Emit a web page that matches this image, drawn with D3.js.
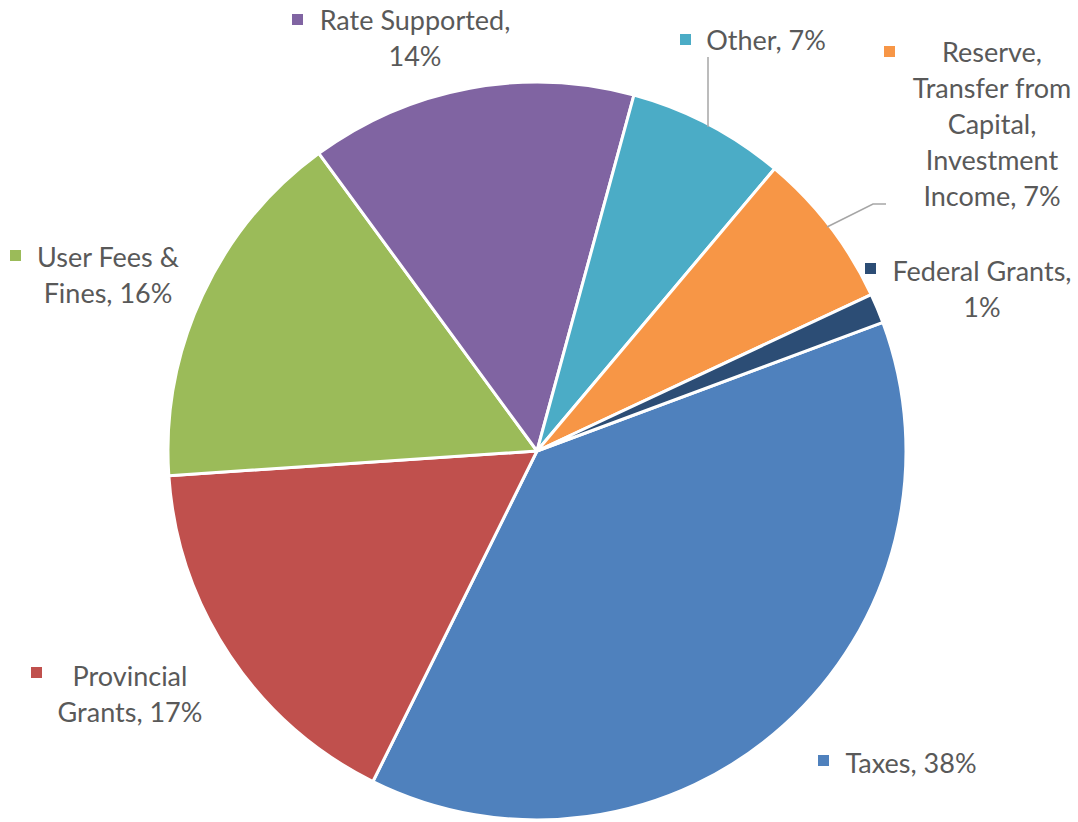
<!DOCTYPE html>
<html>
<head>
<meta charset="utf-8">
<script src="https://cdn.jsdelivr.net/npm/d3@7"></script>
<style>
  body { margin: 0; background: #fff; }
  svg text { font-family: "Lato", "Open Sans", sans-serif; fill: #595959; }
</style>
</head>
<body>
<svg id="chart" width="1078" height="822"></svg>
<script>
// data, in drawing order (clockwise)
var categories = ["Taxes", "Provincial Grants", "User Fees & Fines", "Rate Supported",
                  "Other", "Reserve, Transfer from Capital, Investment Income", "Federal Grants"];
var shares = [38.0, 16.6, 16.0, 14.3, 6.9, 6.9, 1.3];
var colors = ["#4F81BD", "#C0504D", "#9BBB59", "#8064A2", "#4BACC6", "#F79646", "#2C4D75"];

// label text lines (last line gets the percent appended)
var labelLines = [
  ["Taxes,"],
  ["Provincial", "Grants,"],
  ["User Fees &", "Fines,"],
  ["Rate Supported,", ""],
  ["Other,"],
  ["Reserve,", "Transfer from", "Capital,", "Investment", "Income,"],
  ["Federal Grants,", ""]
];

// where Excel put each label: text centre x, first baseline y, key square x
var labelPos = [
  {cx: 911, y: 773, kx: 818, ky: 755},
  {cx: 130, y: 686, kx: 31,  ky: 667},
  {cx: 108, y: 267, kx: 10,  ky: 250},
  {cx: 415, y: 30,  kx: 292, ky: 14},
  {cx: 766, y: 50,  kx: 680, ky: 34},
  {cx: 992, y: 62,  kx: 884, ky: 46},
  {cx: 982, y: 281, kx: 865, ky: 263}
];

var cx = 537, cy = 451, radius = 369;
var svg = d3.select("#chart");
var g = svg.append("g").attr("transform", "translate(" + cx + "," + cy + ")");

var pie = d3.pie()
  .sort(null)
  .value(function(d) { return d; })
  .startAngle(69.6 * Math.PI / 180)
  .endAngle(69.6 * Math.PI / 180 + 2 * Math.PI);

var arc = d3.arc().innerRadius(0).outerRadius(radius);

g.selectAll("path.slice")
  .data(pie(shares))
  .enter().append("path")
    .attr("class", "slice")
    .attr("d", arc)
    .attr("fill", function(d, i) { return colors[i]; })
    .attr("stroke", "#fff")
    .attr("stroke-width", 3)
    .attr("stroke-linejoin", "round");

// leader lines for Other and Reserve
var leaders = [
  [[708, 57], [708, 127]],
  [[886, 204], [873, 204], [827, 227]]
];
svg.selectAll("path.leader")
  .data(leaders)
  .enter().append("path")
    .attr("class", "leader")
    .attr("d", d3.line())
    .attr("fill", "none")
    .attr("stroke", "#A6A6A6")
    .attr("stroke-width", 1.5);

// labels
var lab = svg.selectAll("g.label")
  .data(categories)
  .enter().append("g")
    .attr("class", "label");

lab.append("rect")
  .attr("x", function(d, i) { return labelPos[i].kx; })
  .attr("y", function(d, i) { return labelPos[i].ky; })
  .attr("width", 11)
  .attr("height", 11)
  .attr("fill", function(d, i) { return colors[i]; });

lab.each(function(d, i) {
  var lines = labelLines[i].slice();
  var pct = Math.round(shares[i]) + "%";
  var last = lines.length - 1;
  lines[last] = (lines[last] ? lines[last] + " " : "") + pct;
  var t = d3.select(this).append("text")
    .attr("text-anchor", "middle")
    .style("font-size", "27px");
  lines.forEach(function(s, k) {
    t.append("tspan")
      .attr("x", labelPos[i].cx)
      .attr("y", labelPos[i].y + k * 36)
      .text(s);
  });
});
</script>
</body>
</html>
